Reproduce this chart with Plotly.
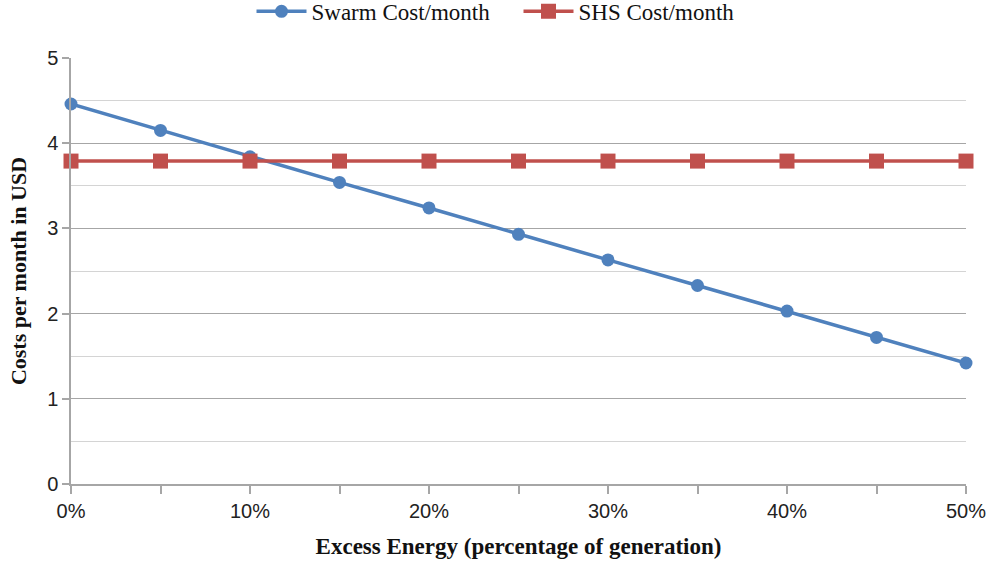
import plotly.graph_objects as go

# Excess energy share (percent of generation)
excess_pct = [0, 5, 10, 15, 20, 25, 30, 35, 40, 45, 50]
# Monthly costs in USD
swarm_cost = [4.46, 4.15, 3.84, 3.54, 3.24, 2.93, 2.63, 2.33, 2.03, 1.72, 1.42]
shs_cost = [3.79, 3.79, 3.79, 3.79, 3.79, 3.79, 3.79, 3.79, 3.79, 3.79, 3.79]

BLUE = "#4F81BD"
RED = "#C0504D"
MAJOR = "#a6a6a6"
MINOR = "#d4d4d4"

fig = go.Figure()
fig.add_trace(go.Scatter(
    x=excess_pct, y=swarm_cost, name="Swarm Cost/month",
    mode="lines+markers", cliponaxis=False,
    line=dict(color=BLUE, width=3.5),
    marker=dict(symbol="circle", size=13, color=BLUE),
))
fig.add_trace(go.Scatter(
    x=excess_pct, y=shs_cost, name="SHS Cost/month",
    mode="lines+markers", cliponaxis=False,
    line=dict(color=RED, width=3.5),
    marker=dict(symbol="square", size=15, color=RED),
))

fig.update_layout(
    width=994, height=566,
    margin=dict(l=71, r=28, t=58, b=82, autoexpand=False),
    paper_bgcolor="white", plot_bgcolor="white",
    showlegend=True,
    legend=dict(
        orientation="h", x=0.5, xanchor="center", y=1.16, yanchor="top",
        yref="paper", font=dict(family="Liberation Serif", size=23, color="#111"),
        itemwidth=50, tracegroupgap=0, entrywidth=202, entrywidthmode="pixels",
    ),
    xaxis=dict(
        range=[0, 50], dtick=10, tick0=0, ticksuffix="%", automargin=False,
        showgrid=False, zeroline=False,
        showline=True, linecolor=MAJOR, linewidth=1.5,
        ticks="outside", ticklen=8, tickcolor=MAJOR, tickwidth=1.5,
        minor=dict(dtick=5, ticks="outside", ticklen=8, tickcolor=MAJOR, tickwidth=1.5),
        tickfont=dict(family="Liberation Sans", size=20, color="#222"),
        title=dict(text="<b>Excess Energy (percentage of generation)</b>",
                   font=dict(family="Liberation Serif", size=23, color="#111"),
                   standoff=17),
    ),
    yaxis=dict(
        range=[0, 5], dtick=1, tick0=0, automargin=False,
        showgrid=True, gridcolor=MAJOR, gridwidth=1.3, zeroline=False,
        showline=True, linecolor=MAJOR, linewidth=1.5,
        ticks="outside", ticklen=7, tickcolor=MAJOR, tickwidth=1.5,
        minor=dict(dtick=0.5, showgrid=True, gridcolor=MINOR, gridwidth=1.3),
        tickfont=dict(family="Liberation Sans", size=20, color="#222"),
        title=dict(text="<b>Costs per month in USD</b>",
                   font=dict(family="Liberation Serif", size=22, color="#111"),
                   standoff=14),
    ),
)

fig.write_html("out.html")
